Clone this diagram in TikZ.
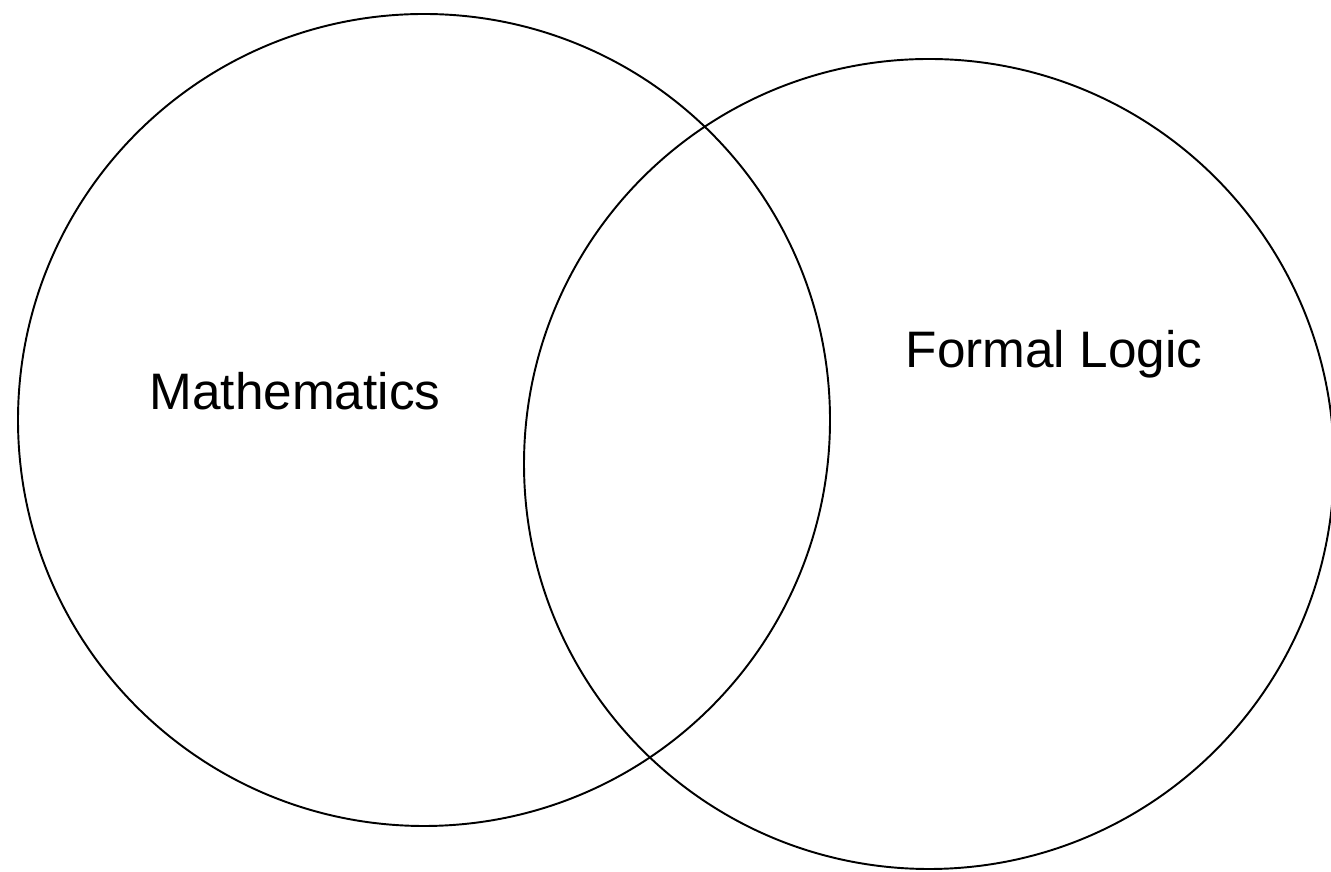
\documentclass[tikz,border=0pt]{standalone}
\usepackage{fontspec}
\setmainfont{Liberation Sans}
\usetikzlibrary{positioning}

\begin{document}
\begin{tikzpicture}[
    every node/.style={font=\fontsize{14.6}{17}\selectfont},
    set/.style={draw, circle, line width=0.55pt, inner sep=0pt},
    setlabel/.style={anchor=base, inner sep=0pt}]
\useasboundingbox (0,0) rectangle (13.31,8.72);

\node[set, minimum size=8.12cm] (math) at (4.24,4.52) {};
\node[set, minimum size=8.10cm] (logic) at (9.29,4.08) {};

\node[setlabel] (mathlabel) at (2.95,4.62) {Mathematics};
\node[setlabel] (logiclabel) at (10.54,5.04) {Formal Logic};
\end{tikzpicture}
\end{document}
